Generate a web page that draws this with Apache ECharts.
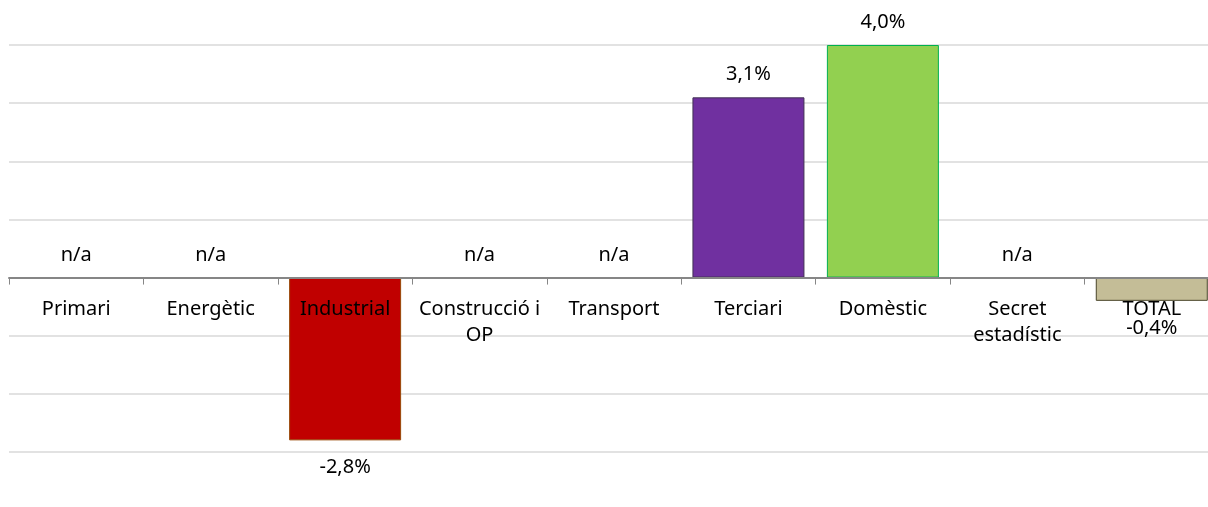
<!DOCTYPE html>
<html>
<head>
<meta charset="utf-8">
<script src="https://cdn.jsdelivr.net/npm/echarts@6/dist/echarts.min.js"></script>
<style>
  html, body { margin: 0; padding: 0; background: #fff; overflow: hidden; }
  #chart { width: 1219px; height: 507px; }
</style>
</head>
<body>
<div id="chart"></div>
<script>
// sectors
const categories = ['Primari', 'Energètic', 'Industrial', 'Construcció i\nOP', 'Transport', 'Terciari', 'Domèstic', 'Secret\nestadístic', 'TOTAL']
// variation %, null = n/a
const values = [null, null, -2.8, null, null, 3.1, 4.0, null, -0.4]
const barColors = [null, null, '#C00000', null, null, '#7030A0', '#92D050', null, '#C4BD97']
const borderColors = [null, null, '#984807', null, null, '#403152', '#00B050', null, '#4A452A']

const fmt = v => v.toFixed(1).replace('.', ',') + '%'
const font = '"Noto Sans", "Open Sans", sans-serif'
const fs = 20

const barData = values.map((v, i) => {
  if (v === null) return null
  return {
    value: v,
    itemStyle: { color: barColors[i], borderColor: borderColors[i], borderWidth: 1 },
    label: { position: v < 0 ? 'bottom' : 'top', distance: v < 0 ? 17 : 13 }
  }
})
const naData = values.map(v => v === null ? 0 : null)
// category names sit just under the zero line
const nameData = categories.map(c => ({ value: 0, name: c }))

let chart = echarts.init(document.getElementById('chart'))
chart.setOption({
  animation: false,
  grid: { left: 9, right: 0, top: 45, bottom: 55, outerBoundsMode: 'none', containLabel: false },
  xAxis: {
    type: 'category',
    data: categories,
    z: 10,
    axisLine: { onZero: true, lineStyle: { color: '#868686', width: 2 } },
    axisTick: { show: true, length: 7, lineStyle: { color: '#868686' } },
    axisLabel: { show: false }
  },
  yAxis: {
    type: 'value',
    min: -3,
    max: 4,
    interval: 1,
    axisLine: { show: false },
    axisTick: { show: false },
    axisLabel: { show: false },
    splitLine: { lineStyle: { color: '#D9D9D9', width: 1.5 } }
  },
  series: [
    {
      type: 'bar',
      data: barData,
      barWidth: 112,
      label: {
        show: true,
        color: '#000',
        fontFamily: font,
        fontSize: fs,
        formatter: p => fmt(p.value)
      }
    },
    {
      type: 'scatter',
      data: naData,
      symbolSize: 0,
      silent: true,
      itemStyle: { opacity: 1 },
      label: {
        show: true,
        position: 'top',
        distance: 12,
        color: '#000',
        fontFamily: font,
        fontSize: fs,
        formatter: 'n/a'
      }
    },
    {
      type: 'scatter',
      data: nameData,
      symbolSize: 0,
      silent: true,
      z: 10,
      itemStyle: { opacity: 1 },
      label: {
        show: true,
        position: 'bottom',
        distance: 19,
        color: '#000',
        fontFamily: font,
        fontSize: fs,
        lineHeight: 26,
        formatter: p => p.name
      }
    }
  ]
})
</script>
</body>
</html>
